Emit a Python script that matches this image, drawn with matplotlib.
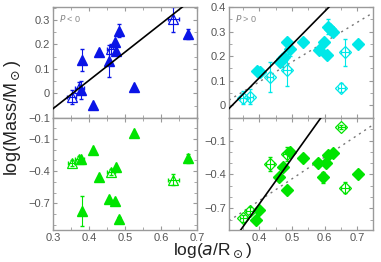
import matplotlib
matplotlib.use("Agg")
import matplotlib.pyplot as plt
from matplotlib.ticker import MultipleLocator, FuncFormatter, FixedLocator
import numpy as np

plt.rcParams['font.family'] = ['Liberation Sans', 'DejaVu Sans']
plt.rcParams['mathtext.fontset'] = 'dejavusans'

BLUE = '#0a14e6'
CYAN = '#00e8e8'
GREEN = '#00e400'
GREY = '#9a9a9a'
TXT = '#555555'

# ---- Top-left (P<0), blue ----
tl_fx = [0.380, 0.378, 0.412, 0.429, 0.456, 0.472, 0.475, 0.483, 0.526, 0.674]
tl_fy = [0.138, 0.014, -0.048, 0.169, 0.134, 0.210, 0.172, 0.257, 0.028, 0.242]
tl_fye = [0.045, 0.035, 0.0, 0.0, 0.065, 0.0, 0.0, 0.025, 0.0, 0.02]
tl_ox = [0.352, 0.373, 0.461, 0.634]
tl_oy = [-0.014, 0.023, 0.181, 0.303]
tl_oxe = [0.012, 0.012, 0.010, 0.015]
tl_oye = [0.030, 0.025, 0.020, 0.050]
tl_line = [-0.062, 1.155]  # y = a + b*(x-0.3)

# ---- Top-right (P>0), cyan ----
tr_fx = [0.392, 0.402, 0.462, 0.469, 0.474, 0.486, 0.494, 0.535, 0.584, 0.597,
         0.607, 0.610, 0.617, 0.627, 0.701]
tr_fy = [0.141, 0.134, 0.176, 0.188, 0.197, 0.257, 0.229, 0.258, 0.224, 0.258,
         0.206, 0.320, 0.311, 0.299, 0.250]
tr_fye = [0.0, 0.0, 0.0, 0.0, 0.0, 0.0, 0.03, 0.0, 0.0, 0.0,
          0.0, 0.03, 0.0, 0.0, 0.0]
tr_ox = [0.351, 0.372, 0.433, 0.484, 0.663, 0.651]
tr_oy = [0.031, 0.035, 0.115, 0.142, 0.216, 0.072]
tr_oxe = [0.010, 0.010, 0.010, 0.012, 0.012, 0.010]
tr_oye = [0.025, 0.030, 0.060, 0.065, 0.055, 0.020]
tr_line = [-0.023, 1.35]
tr_dot = [0.015, 0.807]

# ---- Bottom-left (P<0), green ----
bl_fx = [0.526, 0.412, 0.378, 0.475, 0.429, 0.456, 0.472, 0.380, 0.483, 0.674]
bl_fy = [-0.047, -0.203, -0.287, -0.360, -0.453, -0.662, -0.678, -0.772, -0.850, -0.281]
bl_fye = [0.0, 0.0, 0.0, 0.0, 0.0, 0.0, 0.0, 0.14, 0.02, 0.04]
bl_ox = [0.352, 0.373, 0.461, 0.634]
bl_oy = [-0.322, -0.290, -0.406, -0.478]
bl_oxe = [0.010, 0.012, 0.010, 0.015]
bl_oye = [0.030, 0.030, 0.030, 0.050]

# ---- Bottom-right (P>0), green ----
br_fx = [0.494, 0.472, 0.460, 0.486, 0.535, 0.581, 0.605, 0.609, 0.625, 0.595,
         0.701, 0.400, 0.390]
br_fy = [-0.198, -0.336, -0.419, -0.538, -0.256, -0.301, -0.295, -0.227, -0.212,
         -0.425, -0.395, -0.715, -0.804]
br_fye = [0.02, 0.0, 0.0, 0.0, 0.0, 0.0, 0.0, 0.0, 0.0, 0.05, 0.0, 0.0, 0.0]
br_ox = [0.351, 0.370, 0.433, 0.484, 0.663, 0.651]
br_oy = [-0.789, -0.721, -0.310, -0.221, -0.517, 0.019]
br_oxe = [0.010, 0.010, 0.012, 0.012, 0.012, 0.010]
br_oye = [0.030, 0.030, 0.060, 0.060, 0.050, 0.020]
br_line = [-0.892 - 4.05 * 0.043, 4.05]
br_dot = [-0.81 - 1.93 * 0.008, 1.93]

top_yticks_l = [-0.1, 0.0, 0.1, 0.2, 0.3]
top_yticks_r = [0.0, 0.1, 0.2, 0.3, 0.4]
bot_yticks = [-0.7, -0.4, -0.1]
x_ticks = [0.3, 0.4, 0.5, 0.6, 0.7]

fig = plt.figure(figsize=(3.81, 2.62), dpi=100)
W = 144 / 381
ax_tl = fig.add_axes([53 / 381, 1 - 118 / 262, W, 111 / 262])
ax_tr = fig.add_axes([229 / 381, 1 - 118 / 262, W, 111 / 262])
ax_bl = fig.add_axes([53 / 381, 1 - 230 / 262, W, 112 / 262])
ax_br = fig.add_axes([229 / 381, 1 - 230 / 262, W, 112 / 262])

fmt = FuncFormatter(lambda v, p: (f"{v:.1f}" if abs(v) > 1e-9 else "0").replace('-', '\u2212'))


def style(ax, xlim, ylim, yticks, yminor, xlabels):
    ax.set_xlim(*xlim)
    ax.set_ylim(*ylim)
    ax.xaxis.set_major_locator(FixedLocator(x_ticks))
    ax.xaxis.set_minor_locator(MultipleLocator(0.05))
    ax.yaxis.set_major_locator(FixedLocator(yticks))
    ax.yaxis.set_minor_locator(FixedLocator(yminor))
    ax.yaxis.set_major_formatter(fmt)
    ax.xaxis.set_major_formatter(fmt)
    for s in ax.spines.values():
        s.set_color(GREY)
        s.set_linewidth(1.0)
    ax.tick_params(which='both', direction='in', top=True, right=True,
                   color=GREY, labelcolor=TXT, labelsize=8, pad=2)
    ax.tick_params(which='major', length=3, width=0.8)
    ax.tick_params(which='minor', length=2, width=0.6)
    if not xlabels:
        ax.tick_params(axis='x', labelbottom=False)


def filled(ax, x, y, ye, marker, color, ms):
    ax.errorbar(x, y, yerr=ye, fmt='none', ecolor=color, elinewidth=0.8, capsize=1.5, zorder=2)
    ax.plot(x, y, linestyle='none', marker=marker, color=color, ms=ms, mec=color, zorder=3)


def opened(ax, x, y, xe, ye, marker, color, ms):
    ax.errorbar(x, y, xerr=xe, yerr=ye, fmt='none', ecolor=color, elinewidth=0.8, capsize=1.5, zorder=2)
    ax.plot(x, y, linestyle='none', marker=marker, mfc='none', mec=color, ms=ms, mew=0.9, zorder=3)


def line(ax, coef, ls):
    xx = np.array(ax.get_xlim())
    yy = coef[0] + coef[1] * (xx - 0.3)
    if ls == 'solid':
        ax.plot(xx, yy, color='black', lw=1.2, zorder=4)
    else:
        ax.plot(xx, yy, color='#777777', lw=1.0, ls=(0, (1.5, 3)), zorder=1)


minor_top = list(np.round(np.arange(-0.05, 0.41, 0.05), 2))
minor_bot = list(np.round(np.arange(-0.9, 0.11, 0.1), 2))

style(ax_tl, (0.3, 0.7), (-0.1, 0.353), top_yticks_l, minor_top, False)
style(ax_tr, (0.307, 0.748), (-0.052, 0.4), top_yticks_r, minor_top, False)
style(ax_bl, (0.3, 0.7), (-0.95, 0.097), bot_yticks, minor_bot, True)
style(ax_br, (0.307, 0.748), (-0.893, 0.1), bot_yticks, minor_bot, True)

filled(ax_tl, tl_fx, tl_fy, tl_fye, '^', BLUE, 7)
opened(ax_tl, tl_ox, tl_oy, tl_oxe, tl_oye, '^', BLUE, 7)
line(ax_tl, tl_line, 'solid')

filled(ax_tr, tr_fx, tr_fy, tr_fye, 'D', CYAN, 6)
opened(ax_tr, tr_ox, tr_oy, tr_oxe, tr_oye, 'D', CYAN, 6)
line(ax_tr, tr_line, 'solid')
line(ax_tr, tr_dot, 'dot')

filled(ax_bl, bl_fx, bl_fy, bl_fye, '^', GREEN, 7)
opened(ax_bl, bl_ox, bl_oy, bl_oxe, bl_oye, '^', GREEN, 7)

filled(ax_br, br_fx, br_fy, br_fye, 'D', GREEN, 6)
opened(ax_br, br_ox, br_oy, br_oxe, br_oye, 'D', GREEN, 6)
line(ax_br, br_line, 'solid')
line(ax_br, br_dot, 'dot')

ax_tl.text(0.04, 0.95, r'$P$ < 0', transform=ax_tl.transAxes, fontsize=6.5,
           color='#888888', va='top', ha='left')
ax_tr.text(0.04, 0.95, r'$P$ > 0', transform=ax_tr.transAxes, fontsize=6.5,
           color='#888888', va='top', ha='left')

fig.text(0.032, 1 - 118 / 262, r'log(Mass/M$_\odot$)', rotation=90, fontsize=13,
         va='center', ha='center', color='#222222')
fig.text(213 / 381, 2 / 262, r'log($a$/R$_\odot$)', fontsize=12.5,
         va='bottom', ha='center', color='#222222')

fig.savefig('out.png', dpi=100)
